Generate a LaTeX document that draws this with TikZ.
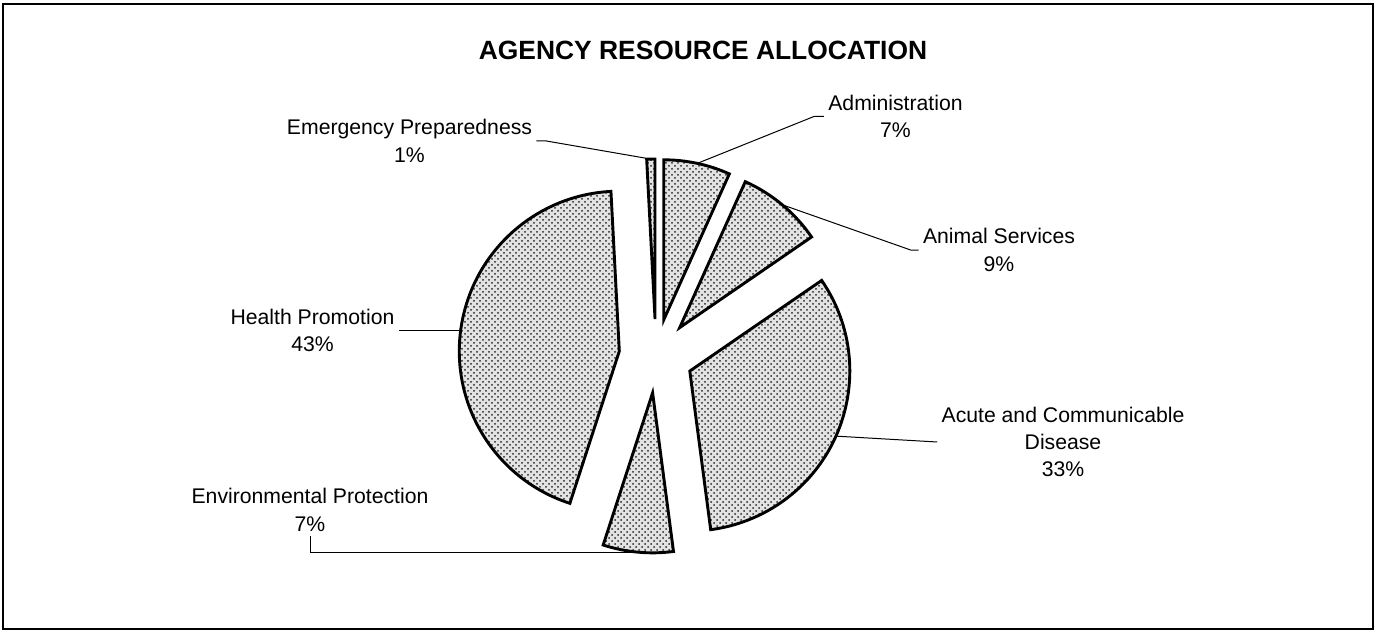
\documentclass[tikz,border=0pt]{standalone}
\usepackage{fontspec}
\setmainfont{Liberation Sans}
\usepackage{tikz}
\usetikzlibrary{patterns}

\begin{document}
\begin{tikzpicture}[x=0.5pt, y=-0.5pt,
    slice/.style={draw=black, line width=1.45pt, preaction={fill=gray!22}, pattern=crosshatch dots, pattern color=black!85},
    leader/.style={draw=black, line width=0.5pt},
    lbl/.style={align=center, inner sep=2pt, font=\fontsize{10.6}{13.7}\selectfont}]
  \useasboundingbox (0,0) rectangle (1377,631);
  \draw[line width=0.8pt] (3,4) rectangle (1373,629);
  \node[font=\bfseries\fontsize{13.2}{16}\selectfont] (title) at (703,50) {AGENCY RESOURCE ALLOCATION};

  % exploded slices, angles clockwise from 12 o'clock
  \foreach \from/\to/\name in {0/24.2/adm, 24.2/55.5/ani, 55.5/172.5/acu, 172.5/198/env, 198/357/hea, 357/360/eme} {
    \pgfmathsetmacro\midang{(\from+\to)/2}
    \path (656,356) ++(\midang-90:37) coordinate (\name-apex);
    \filldraw[slice] (\name-apex) -- ++(\from-90:160) arc[start angle=\from-90, end angle=\to-90, radius=160] -- cycle;
    \path (\name-apex) ++(\midang-90:160) coordinate (\name-pt);
  }

  % labels
  \node[lbl] (adm-lbl) at (895.5,116.5) {Administration\\7\%};
  \node[lbl] (ani-lbl) at (999,250) {Animal Services\\9\%};
  \node[lbl] (acu-lbl) at (1063,442) {Acute and Communicable\\Disease\\33\%};
  \node[lbl] (env-lbl) at (310,510) {Environmental Protection\\7\%};
  \node[lbl] (hea-lbl) at (312.5,330.5) {Health Promotion\\43\%};
  \node[lbl] (eme-lbl) at (409.5,141) {Emergency Preparedness\\1\%};

  % leader lines
  \draw[leader] (adm-pt) -- ([xshift=-5pt]adm-lbl.west) -- (adm-lbl.west);
  \draw[leader] (ani-pt) -- ([xshift=-4pt]ani-lbl.west) -- (ani-lbl.west);
  \draw[leader] (acu-pt) -- (acu-lbl.west);
  \draw[leader] (env-pt) -| (env-lbl.south);
  \draw[leader] (hea-pt) -- (hea-pt -| hea-lbl.east);
  \draw[leader] (eme-lbl.east) -- ([xshift=5pt]eme-lbl.east) -- (eme-pt);
\end{tikzpicture}
\end{document}
